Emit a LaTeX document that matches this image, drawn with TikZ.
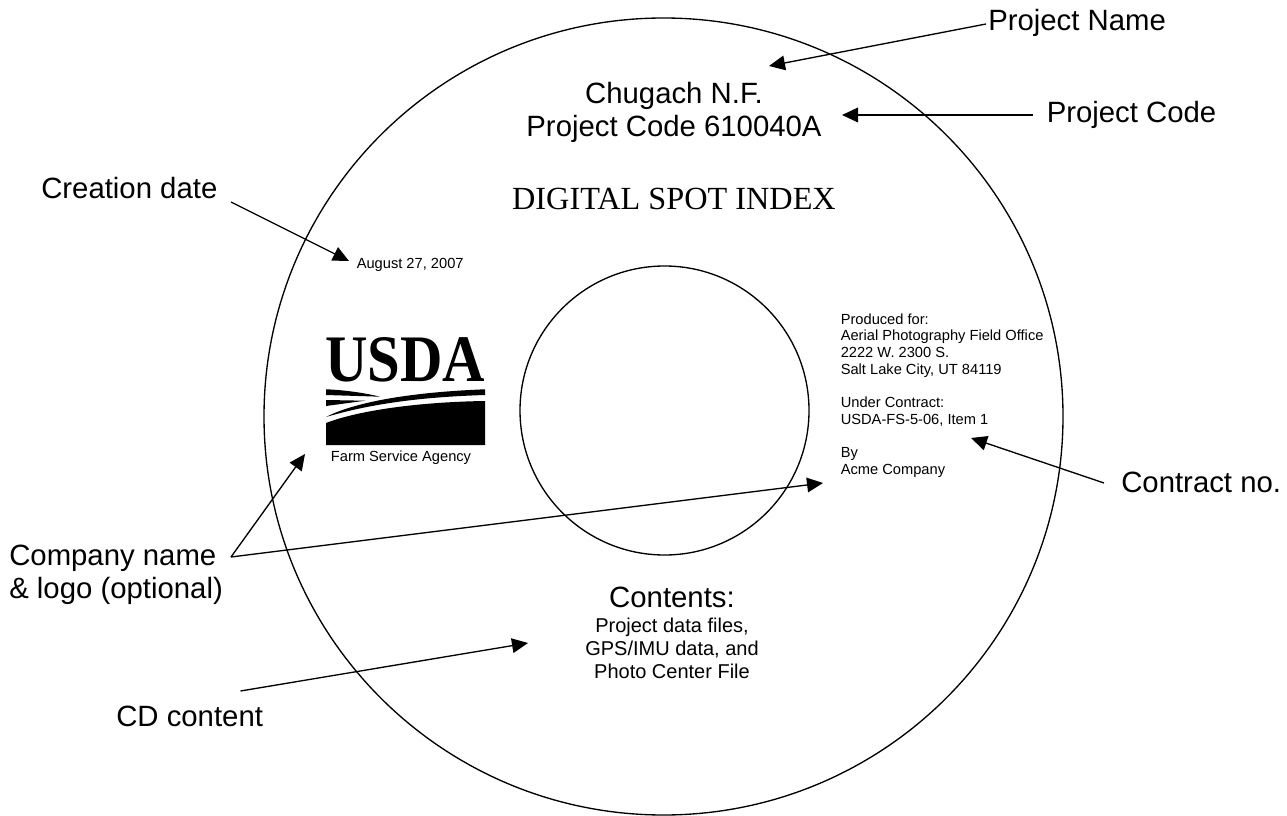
\documentclass[tikz,border=0pt]{standalone}
\usepackage{graphicx}
\usepackage{fontspec}
\setmainfont{Liberation Sans}
\newfontfamily\timesf{Liberation Serif}
\usetikzlibrary{arrows.meta}
\tikzset{
  lab/.style={inner sep=0pt,font=\fontsize{22}{25}\selectfont},
  tiny/.style={inner sep=0pt,font=\fontsize{11}{12.5}\selectfont},
  conn/.style={line width=1pt,-{Triangle[length=12pt,width=11pt]}},
  ring/.style={draw,line width=1pt},
}
\begin{document}
\begin{tikzpicture}[x=0.75pt,y=-0.75pt]
\useasboundingbox (0,0) rectangle (1287,816);
\draw[ring] (663.5,416.5) ellipse [x radius=399.5,y radius=398.5];
\draw[ring] (664.5,410.5) circle [radius=144.5];
% texts
\node[lab,anchor=base west] (pname) at (988,31) {Project Name};
\node[lab,anchor=base west] (pcode) at (1046.5,123) {Project Code};
\node[lab,anchor=base west] (cdate) at (41,199) {Creation date};
\node[lab,anchor=base west] (cno) at (1121,492) {Contract no.};
\node[lab,align=left,anchor=north west] (cname) at (9,544.5) {Company name\\\& logo (optional)};
\node[lab,anchor=base west] (cdc) at (116,726) {CD content};
\node[lab,align=center,anchor=north] (title) at (674,81.6) {Chugach N.F.\\Project Code 610040A};
\node[inner sep=0pt,font=\timesf\fontsize{24.2}{28}\selectfont,anchor=base] (dsi) at (674,210) {DIGITAL SPOT INDEX};
\node[tiny,anchor=base west] (adate) at (356.5,269) {August 27, 2007};
\node[tiny,anchor=base] (fsa) at (401,461) {Farm Service Agency};
\node[tiny,align=left,anchor=north west] (prod) at (840.5,313.4) {Produced for:\\Aerial Photography Field Office\\2222 W. 2300 S.\\Salt Lake City, UT 84119\\[12.5pt]Under Contract:\\USDA-FS-5-06, Item 1\\[12.5pt]By\\Acme Company};
\node[lab,anchor=base] (cont) at (672,607) {Contents:};
\node[inner sep=0pt,align=center,anchor=north,font=\fontsize{15}{17.25}\selectfont] (contl) at (672,617.4) {Project data files,\\GPS/IMU data, and\\Photo Center File};
% logo
\node[inner sep=0pt,anchor=base,font=\timesf\bfseries] (usda) at (405,381.5) {\resizebox{120pt}{33pt}{USDA}};
\fill (326,389.3) .. controls (345,390) and (365,393) .. (380,396.7) -- (326,395) -- cycle;
\fill (326,400) -- (365,400.7) -- (326,406) -- cycle;
\fill (326,417) .. controls (345,407) and (390,393) .. (485,389.3) -- (485,395) .. controls (420,397) and (370,404) .. (326,417) -- cycle;
\fill (326,423) .. controls (360,410) and (420,402) .. (485,401) -- (485,445) -- (326,445) -- cycle;
% connectors
\coordinate (a1) at (769,66);
\coordinate (pn0) at (986,24);
\coordinate (a2) at (842,115);
\coordinate (pc0) at (1033,115);
\coordinate (a3) at (349,261);
\coordinate (cd0) at (231,202);
\coordinate (a4) at (971,438);
\coordinate (cn0) at (1104,483);
\coordinate (a5) at (305,454);
\coordinate (a6) at (823,483);
\coordinate (co0) at (231,557);
\coordinate (a7) at (528,643);
\coordinate (cc0) at (240.5,691);
\draw[conn] (pn0) -- (a1);
\draw[conn] (pc0) -- (a2);
\draw[conn] (cd0) -- (a3);
\draw[conn] (cn0) -- (a4);
\draw[conn] (co0) -- (a5);
\draw[conn] (co0) -- (a6);
\draw[conn] (cc0) -- (a7);
\end{tikzpicture}
\end{document}
